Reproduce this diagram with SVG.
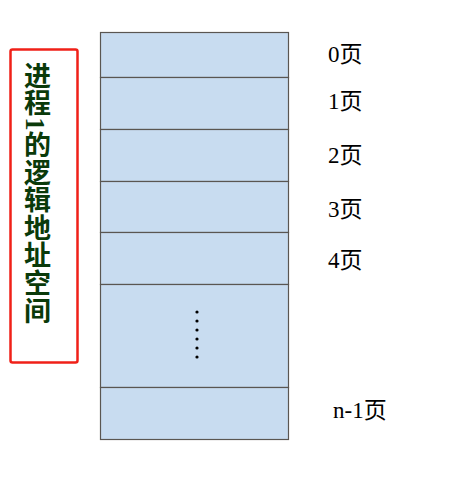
<svg xmlns="http://www.w3.org/2000/svg" width="476" height="479" viewBox="0 0 476 479">
<style>
.cell{fill:#c8dcf0;stroke:#5a5651;stroke-width:1.2}
.lbl{font-family:"Liberation Serif","Noto Sans CJK SC",serif;font-size:23px;fill:#000}
.vt{font-family:"Liberation Serif","Noto Sans CJK SC",serif;font-size:27px;font-weight:bold;fill:#0a3a0a;writing-mode:tb;glyph-orientation-vertical:auto;letter-spacing:0.6px}
.dot{fill:#000}
</style>
<rect width="476" height="479" fill="#fff"/>
<g id="title">
<rect x="10.5" y="49.5" width="67" height="313" rx="2" fill="none" stroke="#f02018" stroke-width="2.5"/>
<text class="vt" x="35" y="62">进程1的逻辑地址空间</text>
</g>
<g id="pages">
<rect class="cell" x="100.5" y="32.5" width="188" height="45"/>
<rect class="cell" x="100.5" y="77.5" width="188" height="52"/>
<rect class="cell" x="100.5" y="129.5" width="188" height="52"/>
<rect class="cell" x="100.5" y="181.5" width="188" height="51"/>
<rect class="cell" x="100.5" y="232.5" width="188" height="52"/>
<rect class="cell" x="100.5" y="284.5" width="188" height="103"/>
<rect class="cell" x="100.5" y="387.5" width="188" height="52"/>
</g>
<g id="dots">
<circle class="dot" cx="197" cy="312" r="1.6"/>
<circle class="dot" cx="197" cy="321" r="1.6"/>
<circle class="dot" cx="197" cy="330" r="1.6"/>
<circle class="dot" cx="197" cy="339" r="1.6"/>
<circle class="dot" cx="197" cy="348" r="1.6"/>
<circle class="dot" cx="197" cy="357" r="1.6"/>
</g>
<g id="labels">
<text class="lbl" x="328" y="62">0页</text>
<text class="lbl" x="328" y="109">1页</text>
<text class="lbl" x="328" y="163">2页</text>
<text class="lbl" x="328" y="217">3页</text>
<text class="lbl" x="328" y="268">4页</text>
<text class="lbl" x="333" y="418">n-1页</text>
</g>
</svg>
